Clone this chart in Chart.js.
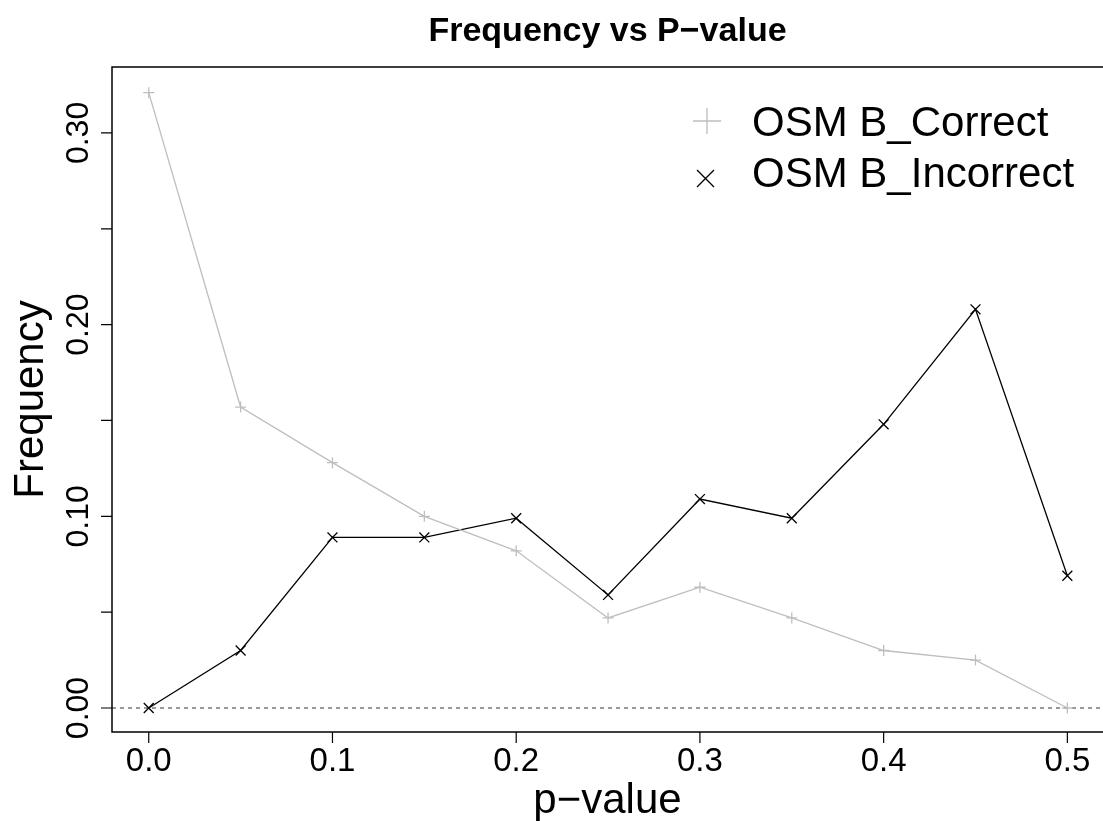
<!DOCTYPE html>
<html>
<head>
<meta charset="utf-8">
<script src="https://cdn.jsdelivr.net/npm/chart.js@4.4.1/dist/chart.umd.min.js"></script>
<style>
  html, body { margin: 0; padding: 0; background: #fff; }
</style>
</head>
<body>
<canvas id="freqChart" width="1103" height="821"></canvas>
<script>
const pValues = [0.0, 0.05, 0.1, 0.15, 0.2, 0.25, 0.3, 0.35, 0.4, 0.45, 0.5];
const correctFreq = [0.321, 0.157, 0.128, 0.100, 0.082, 0.047, 0.063, 0.047, 0.030, 0.025, 0.000];
const incorrectFreq = [0.000, 0.030, 0.089, 0.089, 0.099, 0.059, 0.109, 0.099, 0.148, 0.208, 0.069];
const seriesNames = ["OSM B_Correct", "OSM B_Incorrect"];
const xTicks = [0.0, 0.1, 0.2, 0.3, 0.4, 0.5];
const xLabels = ["0.0", "0.1", "0.2", "0.3", "0.4", "0.5"];
const yTicks = [0.0, 0.05, 0.1, 0.15, 0.2, 0.25, 0.3];
const yLabels = ["0.00", "", "0.10", "", "0.20", "", "0.30"];

const FONT = "'Liberation Sans', Arial, sans-serif";
const GRAY = "#bebebe";

const toPoints = (vals) => pValues.map((x, i) => ({ x: x, y: vals[i] }));

// R-style box, ticks, rotated y labels, titles and legend
const rPlotLook = {
  id: "rPlotLook",
  beforeDatasetsDraw(chart) {
    const { ctx, chartArea: a, scales } = chart;
    const y0 = scales.y.getPixelForValue(0);
    ctx.save();
    ctx.strokeStyle = "#333";
    ctx.lineWidth = 1;
    ctx.setLineDash([4, 4]);
    ctx.beginPath();
    ctx.moveTo(a.left, y0);
    ctx.lineTo(a.right, y0);
    ctx.stroke();
    ctx.restore();
  },
  afterDraw(chart) {
    const { ctx, chartArea: a, scales } = chart;
    const xs = scales.x, ys = scales.y;
    ctx.save();

    // box (right edge falls off the canvas)
    ctx.strokeStyle = "#000";
    ctx.lineWidth = 1.5;
    ctx.beginPath();
    ctx.moveTo(a.right, a.top);
    ctx.lineTo(a.left, a.top);
    ctx.lineTo(a.left, a.bottom);
    ctx.lineTo(a.right, a.bottom);
    ctx.stroke();

    // tick marks
    ctx.lineWidth = 1.2;
    ctx.beginPath();
    xTicks.forEach(v => {
      const px = xs.getPixelForValue(v);
      ctx.moveTo(px, a.bottom);
      ctx.lineTo(px, a.bottom + 11);
    });
    yTicks.forEach(v => {
      const py = ys.getPixelForValue(v);
      ctx.moveTo(a.left, py);
      ctx.lineTo(a.left - 11, py);
    });
    ctx.stroke();

    ctx.fillStyle = "#000";
    // x tick labels
    ctx.font = "33px " + FONT;
    ctx.textAlign = "center";
    ctx.textBaseline = "alphabetic";
    xTicks.forEach((v, i) => {
      ctx.fillText(xLabels[i], xs.getPixelForValue(v), 771);
    });
    // y tick labels, rotated like R's las=0
    ctx.font = "32px " + FONT;
    yTicks.forEach((v, i) => {
      if (!yLabels[i]) return;
      ctx.save();
      ctx.translate(88, ys.getPixelForValue(v));
      ctx.rotate(-Math.PI / 2);
      ctx.fillText(yLabels[i], 0, 0);
      ctx.restore();
    });

    // axis titles
    ctx.font = "42px " + FONT;
    ctx.fillText("p\u2212value", (a.left + a.right) / 2, 813);
    ctx.save();
    ctx.translate(43, (a.top + a.bottom) / 2);
    ctx.rotate(-Math.PI / 2);
    ctx.fillText("Frequency", 0, 0);
    ctx.restore();

    // main title
    ctx.font = "bold 34px " + FONT;
    ctx.fillText("Frequency vs P\u2212value", (a.left + a.right) / 2, 41);

    // legend
    ctx.font = "42px " + FONT;
    ctx.textAlign = "left";
    ctx.fillText(seriesNames[0], 752, 136);
    ctx.fillText(seriesNames[1], 752, 187);
    ctx.lineWidth = 1.3;
    ctx.strokeStyle = GRAY;
    ctx.beginPath();
    ctx.moveTo(693, 121); ctx.lineTo(721, 121);
    ctx.moveTo(707, 108); ctx.lineTo(707, 134);
    ctx.stroke();
    ctx.strokeStyle = "#000";
    ctx.beginPath();
    ctx.moveTo(697, 170); ctx.lineTo(714, 187);
    ctx.moveTo(714, 170); ctx.lineTo(697, 187);
    ctx.stroke();

    ctx.restore();
  }
};

new Chart(document.getElementById("freqChart").getContext("2d"), {
  type: "line",
  data: {
    datasets: [
      {
        label: seriesNames[0],
        data: toPoints(correctFreq),
        borderColor: GRAY,
        borderWidth: 1.3,
        pointStyle: "cross",
        pointRadius: 5.5,
        pointBorderColor: GRAY,
        pointBorderWidth: 1.3,
        fill: false,
        tension: 0,
      },
      {
        label: seriesNames[1],
        data: toPoints(incorrectFreq),
        borderColor: "#000",
        borderWidth: 1.3,
        pointStyle: "crossRot",
        pointRadius: 7,
        pointBorderColor: "#000",
        pointBorderWidth: 1.3,
        fill: false,
        tension: 0,
      },
    ],
  },
  options: {
    responsive: false,
    animation: false,
    devicePixelRatio: 1,
    layout: { autoPadding: false, padding: { top: 67, left: 0, right: 0, bottom: 0 } },
    scales: {
      x: {
        type: "linear",
        min: -0.02,
        max: 0.5194,
        grid: { display: false },
        border: { display: false },
        ticks: { display: false },
        afterFit: (s) => { s.height = 89; },
      },
      y: {
        type: "linear",
        min: -0.01252,
        max: 0.3344,
        grid: { display: false },
        border: { display: false },
        ticks: { display: false },
        afterFit: (s) => { s.width = 112; },
      },
    },
    plugins: {
      legend: { display: false },
      tooltip: { enabled: false },
    },
  },
  plugins: [rPlotLook],
});
</script>
</body>
</html>
